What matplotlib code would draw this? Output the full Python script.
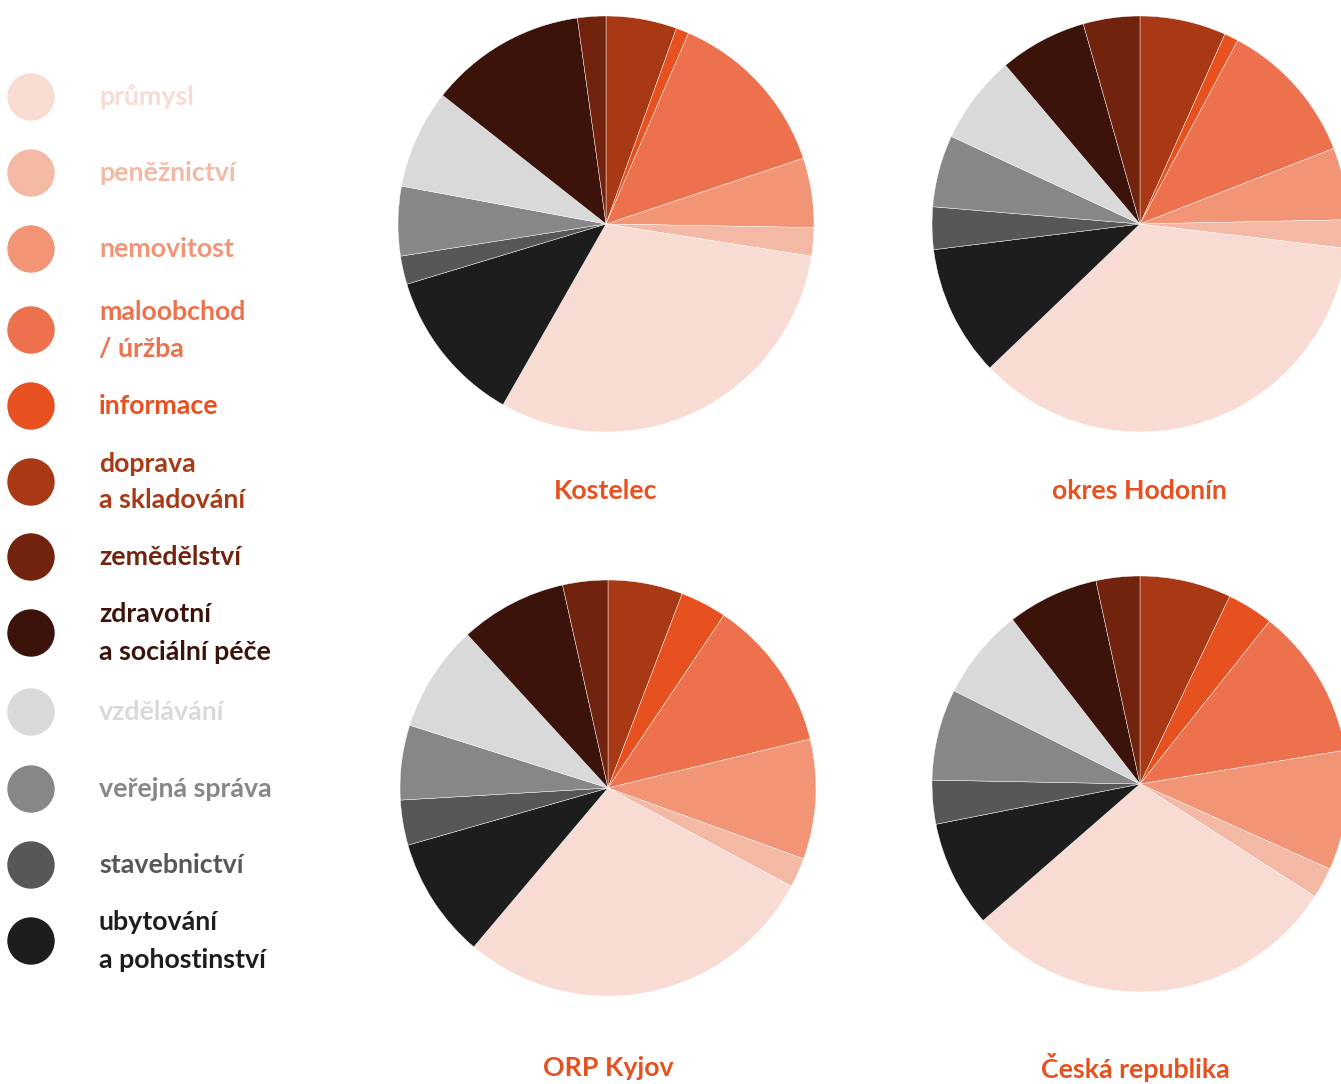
import matplotlib as mpl
mpl.use('Agg')
import matplotlib.pyplot as plt
from matplotlib.patches import Circle

W, H = 1341, 1084

# legend order (top to bottom)
sectors = ['průmysl', 'peněžnictví', 'nemovitost', 'maloobchod\n/ úržba', 'informace',
           'doprava\na skladování', 'zemědělství', 'zdravotní\na sociální péče',
           'vzdělávání', 'veřejná správa', 'stavebnictví', 'ubytování\na pohostinství']
colors = ['#F8DBD3', '#F4B9A5', '#F29576', '#EC714C', '#E7501F', '#A93914',
          '#72230E', '#3B130A', '#D9D9D9', '#878787', '#575757', '#1D1D1D']

# shares in % (same order as sectors)
kostelec = [30.8, 2.2, 5.4, 13.4, 1.0, 5.5, 2.2, 12.2, 7.7, 5.4, 2.2, 12.1]
hodonin = [36.0, 2.2, 5.6, 11.3, 1.1, 6.7, 4.4, 6.8, 6.9, 5.6, 3.3, 10.2]
kyjov = [28.3, 2.3, 9.3, 11.8, 3.6, 5.8, 3.5, 8.3, 8.3, 5.8, 3.5, 9.4]
cr = [29.5, 2.4, 9.3, 11.7, 3.6, 7.1, 3.4, 7.1, 7.1, 7.1, 3.4, 8.3]

regions = ['Kostelec', 'okres Hodonín', 'ORP Kyjov', 'Česká republika']
title_color = '#E7501F'

plt.rcParams['font.family'] = ['Lato', 'DejaVu Sans']
FS = 19.3

fig = plt.figure(figsize=(W / 100, H / 100), dpi=100)

# pie positions in pixels: centre x, centre y, title x, title y
spots = [(606, 224, 606, 491), (1140, 224, 1139, 491),
         (608, 788, 608, 1068), (1140, 784, 1135, 1068)]
R = 208

for vals, name, (cx, cy, tx, ty) in zip([kostelec, hodonin, kyjov, cr], regions, spots):
    ax = fig.add_axes([(cx - R) / W, (H - cy - R) / H, 2 * R / W, 2 * R / H])
    # clockwise from 12 o'clock: doprava, informace, ... , zemědělství
    order = [5, 4, 3, 2, 1, 0, 11, 10, 9, 8, 7, 6]
    ax.pie([vals[i] for i in order], colors=[colors[i] for i in order],
           startangle=90, counterclock=False, radius=1,
           wedgeprops=dict(edgecolor='white', linewidth=0.3))
    ax.set_xlim(-1, 1)
    ax.set_ylim(-1, 1)
    ax.set_aspect('auto')
    ax.axis('off')
    fig.text(tx / W, 1 - ty / H, name, color=title_color, fontsize=FS,
             fontweight='bold', ha='center', va='center')

# legend drawn in pixel coordinates
lax = fig.add_axes([0, 0, 1, 1])
lax.set_xlim(0, W)
lax.set_ylim(H, 0)
lax.axis('off')
leg_y = [97, 173, 249, 330, 406, 482, 557, 633, 712, 789, 865, 941]
for lab, col, y in zip(sectors, colors, leg_y):
    lax.add_patch(Circle((31, y), 23, color=col))
    lines = lab.split('\n')
    if len(lines) == 1:
        lax.text(99, y, lines[0], color=col, fontsize=FS, fontweight='bold', va='center')
    else:
        lax.text(99, y - 18.5, lines[0], color=col, fontsize=FS, fontweight='bold', va='center')
        lax.text(99, y + 18.5, lines[1], color=col, fontsize=FS, fontweight='bold', va='center')

fig.savefig('out.png', dpi=100, facecolor='white')
